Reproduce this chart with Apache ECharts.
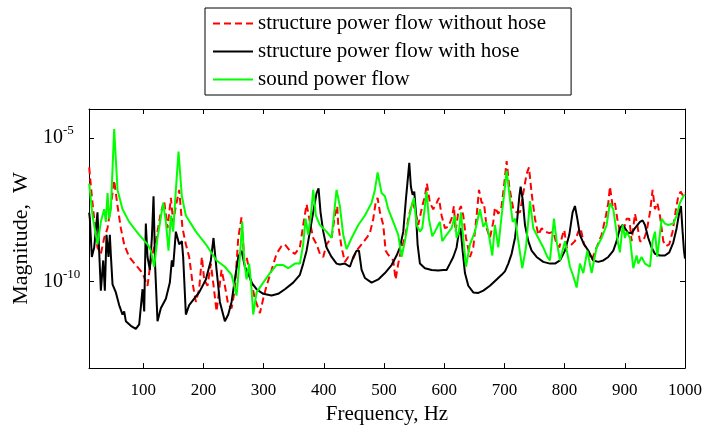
<!DOCTYPE html>
<html>
<head>
<meta charset="utf-8">
<script src="https://cdn.jsdelivr.net/npm/echarts@6/dist/echarts.min.js"></script>
<style>html,body{margin:0;padding:0;background:#fff;}#c{width:711px;height:430px;}</style>
</head>
<body>
<div id="c"></div>
<script>
// [frequency Hz, log10(magnitude W)]
const seriesNames = ['structure power flow without hose', 'structure power flow with hose', 'sound power flow'];
const xTicks = [100, 200, 300, 400, 500, 600, 700, 800, 900, 1000];
const yTicks = [1e-10, 1e-5];

const redLog = [
[10.3,-6.03],[14.7,-7.03],[18.6,-7.81],[24.1,-8.81],[29.7,-9.03],[35.2,-8.48],[40.8,-8.14],[46.3,-7.37],[51.8,-6.48],[57.4,-7.37],[62.9,-8.14],[68.4,-8.70],[76.7,-9.14],[87.8,-9.42],[98.9,-9.70],[107.2,-10.14],[112.7,-9.26],[121.0,-8.59],[129.3,-7.59],[134.9,-7.20],[140.4,-8.14],[146.0,-7.09],[149.8,-7.92],[154.3,-7.37],[159.8,-6.81],[165.3,-8.14],[170.9,-8.70],[176.4,-9.14],[181.9,-10.03],[187.5,-10.70],[193.0,-10.26],[197.5,-9.14],[201.3,-9.92],[206.9,-10.14],[212.4,-9.37],
[216.3,-10.03],[221.9,-11.03],[226.3,-10.26],[230.2,-9.59],[235.7,-10.14],[241.3,-10.81],[246.8,-10.92],[252.3,-10.26],[257.9,-8.48],[263.4,-7.76],[267.8,-9.26],[271.7,-9.14],[276.1,-9.59],[280.0,-10.03],[285.5,-10.59],[293.9,-11.09],[299.4,-10.59],[304.9,-10.14],[313.2,-9.59],[321.5,-9.03],[329.8,-8.76],[335.4,-8.70],[343.7,-8.92],[352.0,-9.03],[360.3,-8.81],[365.8,-8.03],[371.4,-7.31],[376.9,-7.92],[382.4,-8.48],[388.0,-8.70],[393.5,-9.03],[399.1,-9.14],[404.6,-8.70],[412.9,-8.48],[418.4,-7.70],[422.3,-7.37],
[424.0,-8.03],[429.6,-8.81],[435.1,-9.31],[440.6,-9.14],[449.0,-9.20],[454.5,-8.92],[462.8,-8.70],[471.1,-8.48],[476.6,-8.31],[482.2,-7.81],[486.1,-7.26],[489.4,-7.09],[493.3,-7.59],[498.8,-8.03],[502.7,-8.92],[506.0,-9.03],[509.9,-9.14],[515.4,-9.26],[519.3,-9.92],[523.7,-9.37],[529.2,-8.81],[534.8,-8.48],[541.4,-7.70],[547.0,-7.26],[551.4,-7.48],[556.9,-8.03],[563.6,-7.37],[568.0,-7.03],[571.3,-6.59],[576.3,-7.26],[581.8,-7.48],[587.4,-7.26],[591.3,-7.09],[595.7,-7.70],[601.2,-8.14],[606.8,-8.09],[612.3,-7.81],[616.2,-7.37],[618.9,-8.26],[623.4,-7.59],[627.8,-7.37],[631.7,-7.70],
[636.2,-8.48],[642.8,-9.14],[648.3,-8.81],[653.9,-7.70],[657.8,-6.81],[662.2,-7.26],[666.1,-7.26],[670.5,-8.14],[676.0,-8.48],[681.6,-7.92],[684.3,-7.42],[689.9,-7.64],[695.4,-7.37],[699.8,-6.59],[703.7,-5.81],[708.1,-6.70],[714.8,-7.48],[720.3,-7.59],[725.9,-7.59],[731.4,-6.92],[736.9,-6.26],[740.8,-6.03],[745.2,-6.92],[750.8,-7.81],[756.3,-8.37],[761.9,-8.14],[767.4,-8.26],[774.6,-8.31],[781.2,-8.26],[786.8,-8.70],[791.2,-8.81],[796.7,-8.37],[799.5,-8.20],[803.4,-8.81],[808.9,-8.76],[817.2,-8.59],[822.8,-8.26],[826.6,-8.14],[832.2,-8.70],[839.4,-8.92],
[844.9,-9.26],[853.2,-8.81],[861.5,-8.37],[868.7,-7.70],[872.6,-7.26],[875.3,-6.70],[879.8,-7.37],[883.6,-7.26],[887.5,-7.81],[891.9,-8.26],[897.5,-8.26],[903.0,-7.81],[907.4,-7.81],[911.3,-8.59],[916.9,-7.64],[920.7,-8.03],[925.2,-8.59],[930.7,-8.59],[936.2,-8.26],[941.8,-7.59],[946.2,-6.81],[950.1,-7.48],[954.0,-7.26],[958.4,-7.70],[963.9,-8.59],[968.4,-8.76],[973.9,-8.70],[979.4,-8.26],[985.0,-7.48],[988.8,-7.03],[992.7,-6.87],[997.2,-7.03],[1000,-6.92]
];

const blackLog = [
[10.3,-7.60],[11.4,-7.81],[14.7,-9.14],[18.6,-8.81],[24.1,-7.59],[28.0,-9.48],[29.7,-10.31],[33.6,-9.26],[36.3,-10.31],[39.1,-8.37],[42.4,-9.14],[44.6,-8.37],[46.8,-9.26],[49.1,-10.09],[54.6,-10.37],[60.1,-10.81],[65.7,-11.14],[68.4,-11.03],[71.2,-11.37],[79.5,-11.53],[87.8,-11.64],[93.4,-11.48],[98.9,-10.26],[101.7,-11.03],[104.4,-7.98],[107.2,-9.14],[111.1,-9.59],[114.4,-8.48],[117.2,-7.03],[119.9,-9.48],[123.8,-11.37],[129.3,-10.92],[137.7,-10.59],[144.3,-10.03],[147.6,-9.26],[149.8,-9.48],[154.3,-8.26],[159.8,-8.70],[164.2,-8.59],[166.4,-9.14],[170.9,-11.14],[176.4,-10.81],[184.7,-10.59],[193.0,-10.37],[204.1,-9.92],[212.4,-9.26],[216.8,-8.48],
[221.9,-9.59],[227.4,-10.70],[235.7,-11.37],[241.3,-11.14],[246.8,-10.70],[252.3,-9.92],[257.9,-9.14],[263.4,-8.92],[268.9,-9.48],[274.5,-9.70],[280.0,-10.03],[288.3,-10.26],[299.4,-10.42],[313.2,-10.48],[324.3,-10.42],[335.4,-10.26],[349.2,-10.03],[360.3,-9.76],[365.8,-9.37],[371.4,-8.92],[376.9,-8.26],[382.4,-7.59],[388.0,-6.92],[391.3,-6.76],[394.6,-7.59],[399.1,-8.26],[404.6,-8.81],[412.9,-9.14],[421.2,-9.37],[426.7,-9.40],
[435.1,-9.37],[443.4,-9.48],[449.0,-9.14],[454.5,-8.92],[458.4,-8.92],[462.8,-9.59],[468.3,-9.87],[479.4,-10.03],[490.5,-9.92],[501.6,-9.70],[512.6,-9.42],[520.9,-9.09],[526.5,-8.81],[532.0,-8.26],[536.4,-7.14],[540.3,-6.26],[542.0,-5.87],[544.7,-6.70],[547.5,-6.98],[550.3,-6.87],[553.0,-7.59],[555.8,-8.70],[559.7,-9.37],[568.0,-9.53],[579.1,-9.59],[590.1,-9.61],[598.5,-9.59],[604.0,-9.59],[609.5,-9.37],[615.1,-9.14],[620.6,-8.81],[624.5,-8.26],[627.2,-8.14],[630.6,-8.92],
[634.5,-9.70],[640.0,-10.14],[648.3,-10.37],[656.7,-10.39],[665.0,-10.31],[676.0,-10.14],[687.1,-9.92],[695.4,-9.76],[700.9,-9.64],[706.5,-9.37],[712.0,-9.03],[717.6,-8.48],[721.4,-7.81],[724.8,-7.03],[727.0,-6.70],[730.3,-7.14],[734.2,-8.03],[739.7,-8.59],[745.2,-8.92],[753.5,-9.14],[764.6,-9.31],[775.7,-9.37],[784.0,-9.37],[792.3,-9.26],[800.6,-8.92],[807.8,-8.37],[813.3,-7.59],[817.2,-7.37],[821.1,-7.81],[825.5,-8.37],[832.2,-8.70],[839.4,-8.92],
[847.6,-9.26],[856.0,-9.31],[864.3,-9.26],[872.6,-9.14],[880.9,-8.92],[886.4,-8.59],[891.9,-8.14],[896.4,-8.03],[900.3,-8.14],[905.8,-8.31],[911.3,-8.31],[916.9,-8.14],[925.2,-7.92],[929.6,-7.87],[933.5,-8.03],[939.0,-8.48],[944.5,-8.81],[950.1,-9.03],[958.4,-9.09],[966.7,-9.09],[973.9,-8.98],[980.5,-8.64],[986.1,-8.14],[990.5,-7.59],[993.3,-7.37],[996.0,-8.26],[998.3,-8.92],[1000,-9.20]
];

const greenLog = [
[10.3,-6.59],[15.8,-7.70],[24.1,-8.70],[29.7,-7.92],[35.2,-7.48],[38.0,-7.92],[40.8,-6.92],[43.5,-7.81],[46.3,-7.48],[51.8,-4.70],[57.4,-6.81],[65.7,-7.48],[76.7,-7.92],[93.4,-8.37],[107.2,-8.70],[112.7,-8.92],[118.3,-9.48],[123.8,-8.48],[133.2,-7.26],[137.7,-7.92],[142.1,-8.92],[146.0,-7.70],[149.8,-8.26],[154.3,-6.81],[158.7,-5.48],[164.2,-7.03],[170.9,-7.70],[187.5,-8.26],[204.1,-8.70],
[221.9,-9.26],[235.7,-9.48],[246.8,-9.76],[255.1,-10.48],[260.6,-9.14],[264.5,-7.92],[267.8,-9.26],[271.7,-9.92],[276.1,-9.37],[280.0,-10.26],[282.8,-11.14],[288.3,-10.37],[299.4,-10.03],[310.5,-9.70],[321.5,-9.42],[332.6,-9.42],[340.9,-9.53],[352.0,-9.37],[360.3,-9.37],[365.8,-8.70],[369.7,-7.81],[374.1,-8.37],[378.6,-7.70],[382.4,-6.81],[386.9,-7.70],[393.5,-8.03],[404.6,-8.26],[412.9,-8.48],[416.8,-7.70],[421.2,-6.81],[426.7,-7.37],
[432.3,-8.37],[437.9,-8.87],[446.2,-8.48],[457.3,-8.03],[468.3,-7.70],[479.4,-7.26],[484.9,-6.81],[489.4,-6.20],[496.0,-6.92],[501.6,-7.03],[507.1,-7.48],[515.4,-7.92],[523.7,-8.37],[529.2,-9.14],[534.8,-8.59],[540.3,-7.92],[545.8,-7.37],[549.7,-7.09],[554.2,-8.03],[559.7,-8.26],[563.6,-8.14],[568.0,-7.37],[570.8,-6.87],[574.6,-7.81],[580.2,-8.42],[584.6,-8.26],[590.1,-8.03],[592.9,-7.92],[596.8,-8.59],[604.0,-8.37],[612.3,-8.14],[617.8,-7.70],[620.6,-8.48],[624.5,-8.26],[627.8,-7.59],[631.7,-8.48],
[636.2,-9.48],[642.8,-8.70],[651.1,-8.26],[659.4,-7.48],[665.0,-8.09],[669.4,-7.92],[673.3,-8.26],[679.9,-9.09],[684.3,-8.03],[689.9,-8.81],[695.4,-7.70],[699.8,-6.92],[703.7,-6.14],[709.3,-7.14],[713.7,-7.92],[717.6,-7.81],[723.1,-8.59],[729.7,-9.53],[735.8,-8.81],[742.5,-7.20],[748.0,-8.14],[756.3,-8.48],[764.6,-8.81],[771.3,-9.14],[775.7,-9.26],[782.3,-7.81],[786.8,-8.59],[792.3,-9.26],[800.6,-8.59],[808.9,-9.48],[814.5,-9.81],[820.0,-10.20],[825.5,-9.37],[831.1,-9.70],[837.7,-8.92],
[844.9,-9.70],[853.2,-8.81],[861.5,-8.48],[869.8,-8.03],[875.3,-7.26],[880.9,-7.48],[885.3,-8.14],[889.2,-8.70],[891.9,-8.98],[896.4,-8.03],[900.3,-8.48],[903.0,-8.26],[908.6,-8.48],[914.1,-9.53],[919.6,-9.09],[922.4,-9.37],[927.9,-9.14],[933.5,-9.37],[941.8,-9.48],[946.2,-8.59],[950.1,-8.26],[954.0,-9.14],[957.3,-9.14],[961.2,-7.81],[966.7,-7.98],[972.2,-8.03],[980.5,-7.98],[986.1,-7.70],[991.6,-7.26],[997.2,-7.03],[1000,-6.98]
];

const toData = arr => arr.map(p => [p[0], Math.pow(10, p[1])]);
const FONT = "'Liberation Serif', 'Times New Roman', serif";

const chart = echarts.init(document.getElementById('c'), null, {renderer: 'canvas'});
const axisLineStyle = {show: true, lineStyle: {color: '#000', width: 1}};
chart.setOption({
  animation: false,
  backgroundColor: '#fff',
  grid: {left: 89, right: 26, top: 109, bottom: 52, containLabel: false},
  legend: {
    orient: 'vertical', left: 205, top: 8,
    padding: [5, 25, 5, 7], itemGap: 7, itemWidth: 40, itemHeight: 14,
    borderColor: '#000', borderWidth: 1, backgroundColor: '#fff',
    itemStyle: {opacity: 0},
    textStyle: {fontFamily: FONT, fontSize: 21, color: '#000'},
    data: seriesNames
  },
  xAxis: [{
    type: 'value', min: 10, max: 1000, position: 'bottom',
    name: 'Frequency, Hz', nameLocation: 'middle', nameGap: 32,
    nameTextStyle: {fontFamily: FONT, fontSize: 21, color: '#000'},
    axisLine: axisLineStyle,
    axisTick: {show: true, inside: true, length: 5, customValues: xTicks, lineStyle: {color: '#000'}},
    axisLabel: {customValues: xTicks, formatter: v => String(v), fontFamily: FONT, fontSize: 17, color: '#000', margin: 14},
    splitLine: {show: false}
  }, {
    type: 'value', min: 10, max: 1000, position: 'top',
    axisLine: axisLineStyle,
    axisTick: {show: true, inside: true, length: 5, customValues: xTicks, lineStyle: {color: '#000'}},
    axisLabel: {show: false},
    splitLine: {show: false}
  }],
  yAxis: [{
    type: 'log', logBase: 10, min: 1e-13, max: 1e-4, position: 'left',
    name: 'Magnitude,  W', nameLocation: 'middle', nameGap: 53, nameRotate: 90,
    nameTextStyle: {fontFamily: FONT, fontSize: 22, color: '#000'},
    axisLine: axisLineStyle,
    axisTick: {show: true, inside: true, length: 5, customValues: yTicks, lineStyle: {color: '#000'}},
    axisLabel: {
      customValues: yTicks, align: 'left', margin: 46,
      formatter: function (v) {
        const e = Math.round(Math.log10(v));
        return '{b|10}{s|' + e + '}';
      },
      rich: {
        b: {fontFamily: FONT, fontSize: 20, color: '#000'},
        s: {fontFamily: FONT, fontSize: 13, color: '#000', padding: [0, 0, 14, 0]}
      }
    },
    splitLine: {show: false}
  }, {
    type: 'log', logBase: 10, min: 1e-13, max: 1e-4, position: 'right',
    axisLine: axisLineStyle,
    axisTick: {show: true, inside: true, length: 5, customValues: yTicks, lineStyle: {color: '#000'}},
    axisLabel: {show: false},
    splitLine: {show: false}
  }],
  series: [{
    name: seriesNames[0], type: 'line', xAxisIndex: 0, yAxisIndex: 0,
    data: toData(redLog), showSymbol: false, symbol: 'none',
    lineStyle: {color: '#ff0000', width: 2, type: [7, 4]}, itemStyle: {color: '#ff0000'}
  }, {
    name: seriesNames[1], type: 'line', xAxisIndex: 0, yAxisIndex: 0,
    data: toData(blackLog), showSymbol: false, symbol: 'none',
    lineStyle: {color: '#000000', width: 2}, itemStyle: {color: '#000000'}
  }, {
    name: seriesNames[2], type: 'line', xAxisIndex: 0, yAxisIndex: 0,
    data: toData(greenLog), showSymbol: false, symbol: 'none',
    lineStyle: {color: '#00ff00', width: 2}, itemStyle: {color: '#00ff00'}
  }]
});
</script>
</body>
</html>
